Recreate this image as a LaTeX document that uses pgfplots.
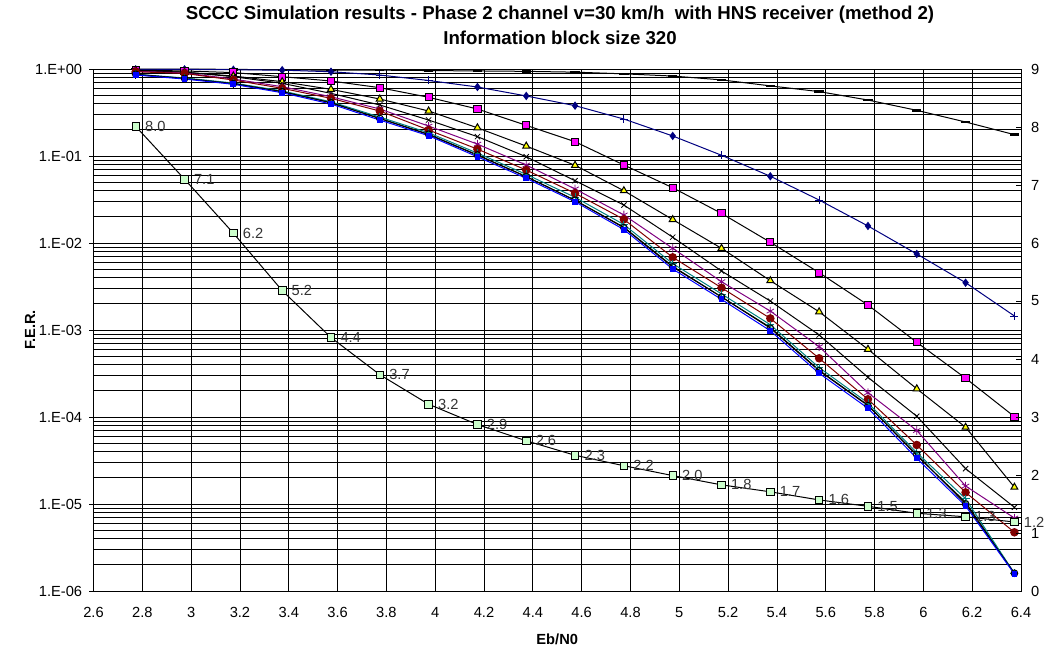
\documentclass[border=0pt]{standalone}
\usepackage{pgfplots}
\usepackage{pgfplotstable}
\pgfplotsset{compat=1.18}
\usepackage{fontspec}
\setmainfont{Liberation Sans}
\definecolor{xnavy}{HTML}{000080}
\definecolor{xmag}{HTML}{FF00FF}
\definecolor{xyel}{HTML}{FFFF00}
\definecolor{xpur}{HTML}{800080}
\definecolor{xred}{HTML}{800000}
\definecolor{xteal}{HTML}{008080}
\definecolor{xblue}{HTML}{0000FF}
\definecolor{xgreen}{HTML}{CCFFCC}

\pgfplotstableread{
x     A     B       Bd      Bp      C        D        E        F        G        H        I        K        J
2.773 1.0   0.99    0.99    nan     0.97     0.96     0.96     0.94     0.93     0.87     0.87     0.86     0.853
2.973 1.0   0.99    0.99    nan     0.95     0.92     0.92     0.90     0.89     0.79     0.78     0.78     0.767
3.173 0.99  0.98    0.98    nan     0.91     0.83     0.816    0.767    0.747    0.69     0.68     0.68     0.667
3.373 0.98  0.97    0.97    nan     0.816    0.715    0.685    0.626    0.60     0.56     0.55     0.55     0.534
3.573 0.97  0.93    0.93    nan     0.728    0.584    0.525    0.48     0.46     0.42     0.41     0.41     0.396
3.773 0.97  0.853   nan     0.853   0.61     0.452    0.386    0.347    0.329    0.28     0.27     0.27     0.259
3.973 0.96  0.738   nan     0.738   0.473    0.329    0.259    0.221    0.199    0.185    0.178    0.176    0.171
4.173 0.95  0.621   0.621   nan     0.347    0.211    0.167    0.137    0.120    0.108    0.103    0.102    0.098
4.373 0.94  0.49    0.49    nan     0.225    0.130    0.098    0.0788   0.069    0.0615   0.058    0.058    0.0554
4.573 0.92  0.379   0.379   nan     0.146    0.0782   0.052    0.0418   0.0373   0.0335   0.031    0.031    0.0298
4.773 0.88  0.266   nan     0.266   0.0788   0.0399   0.0273   0.021    0.0187   0.0163   0.0150   0.0152   0.01426
4.973 0.83  0.170   0.170   nan     0.0432   0.0186   0.01166  0.00869  0.00685  0.0058   0.0053   0.0054   0.00502
5.173 0.75  0.102   nan     0.102   0.0219   0.00869  0.00477  0.00359  0.00306  0.0026   0.0024   0.0024   0.00225
5.373 0.64  0.0585  0.0585  nan     0.0102   0.00369  0.00215  0.00165  0.00136  0.00115  0.00105  0.00107  0.00098
5.573 0.55  0.0312  nan     0.0312  0.00456  0.00162  0.000877 0.000643 0.000473 0.00037  0.00034  0.000345 0.000318
5.773 0.44  0.0157  0.0157  nan     0.00194  0.0006   0.000286 0.00019  0.00016  0.000145 0.000135 0.000137 0.000126
5.973 0.335 0.00748 0.00748 nan     0.000722 0.000211 0.000102 7.0e-5   4.77e-5  3.9e-5   3.7e-5   3.6e-5   3.35e-5
6.173 0.246 0.0035  0.0035  nan     0.000279 7.63e-5  2.55e-5  1.61e-5  1.36e-5  1.15e-5  1.0e-5   1.05e-5  9.5e-6
6.373 0.176 0.00145 nan     0.00145 0.000101 1.56e-5  9.17e-6  6.9e-6   4.73e-6  1.6e-6   1.6e-6   1.6e-6   1.57e-6
}\fer

\pgfplotstableread{
x     g    lab
2.773 8.01 8.0
2.973 7.10 7.1
3.173 6.17 6.2
3.373 5.18 5.2
3.573 4.37 4.4
3.773 3.73 3.7
3.973 3.22 3.2
4.173 2.87 2.9
4.373 2.59 2.6
4.573 2.34 2.3
4.773 2.16 2.2
4.973 1.99 2.0
5.173 1.83 1.8
5.373 1.71 1.7
5.573 1.57 1.6
5.773 1.46 1.5
5.973 1.34 1.3
6.173 1.28 1.3
6.373 1.19 1.2
}\green

\pgfplotsset{
  every axis/.append style={
    scale only axis, width=695.625pt, height=391.5pt,
    xmin=2.6, xmax=6.4,
    font=\fontsize{11}{13}\selectfont,
    /pgf/number format/assume math mode=true,
    axis line style={black, line width=0.7pt},
  },
}

\begin{document}
\begin{tikzpicture}
\path[use as bounding box] (-70.125pt,-45pt) rectangle (715.125pt,443.25pt);
\begin{axis}[
  ymode=log, ymin=1e-6, ymax=1,
  xtick={2.6,2.8,3,3.2,3.4,3.6,3.8,4,4.2,4.4,4.6,4.8,5,5.2,5.4,5.6,5.8,6,6.2,6.4},
  xticklabels={2.6,2.8,3,3.2,3.4,3.6,3.8,4,4.2,4.4,4.6,4.8,5,5.2,5.4,5.6,5.8,6,6.2,6.4},
  ytick={1e-6,1e-5,1e-4,1e-3,1e-2,1e-1,1},
  yticklabels={1.E-06,1.E-05,1.E-04,1.E-03,1.E-02,1.E-01,1.E+00},
  xmajorgrids, ymajorgrids, yminorgrids,
  grid style={black, line width=0.6pt},
  minor grid style={black, line width=0.6pt},
  xtick pos=bottom, ytick pos=left,
  tick align=outside,
  major tick length=3pt, minor tick length=0pt,
  xtick style={draw=none},
  ytick style={black, line width=0.6pt},
  xticklabel style={yshift=-6pt},
  yticklabel style={xshift=-2pt},
  clip=false,
  every axis plot/.append style={line width=0.75pt, mark options={solid, line width=0.6pt}},
]
\addplot[black, mark=-, mark size=3.5pt, mark options={line width=1.8pt}] table[x=x,y=A] {\fer};
\addplot[xnavy, no marks] table[x=x,y=B] {\fer};
\addplot[xnavy, only marks, mark=diamond*, mark size=2.6pt, mark options={fill=xnavy}] table[x=x,y=Bd] {\fer};
\addplot[xnavy, only marks, mark=+, mark size=3pt] table[x=x,y=Bp] {\fer};
\addplot[black, mark=square*, mark size=2.7pt, mark options={fill=xmag, draw=black}] table[x=x,y=C] {\fer};
\addplot[black, mark=triangle*, mark size=3pt, mark options={fill=xyel, draw=black}] table[x=x,y=D] {\fer};
\addplot[black, mark=x, mark size=2.8pt] table[x=x,y=E] {\fer};
\addplot[xpur, mark=asterisk, mark size=3.2pt] table[x=x,y=F] {\fer};
\addplot[xred, mark=*, mark size=2.8pt, mark options={fill=xred, draw=xred}] table[x=x,y=G] {\fer};
\addplot[black, mark=|, mark size=3pt] table[x=x,y=K] {\fer};
\addplot[xteal, mark=+, mark size=3pt] table[x=x,y=H] {\fer};
\addplot[black, mark=o, mark size=2.5pt, mark options={fill=white}] table[x=x,y=I] {\fer};
\addplot[xblue, mark=square*, mark size=1.8pt, mark options={fill=xblue, draw=xblue}] table[x=x,y=J] {\fer};
\end{axis}
\begin{axis}[
  ymin=0, ymax=9,
  axis y line*=right, axis x line=none,
  ytick={0,1,2,3,4,5,6,7,8,9},
  tick align=inside,
  major tick length=4pt,
  ytick style={black, line width=0.6pt},
  yticklabel style={xshift=4pt},
  clip=false,
]
\addplot[black, line width=0.75pt, mark=square*, mark size=2.8pt,
  mark options={fill=xgreen, draw=black, line width=0.6pt},
  nodes near coords, point meta=explicit symbolic,
  nodes near coords style={anchor=west, xshift=3.5pt, font=\fontsize{11}{13}\selectfont, text=black!80}]
  table[x=x,y=g,meta=lab] {\green};
\end{axis}
\node[font=\fontsize{14}{16}\selectfont\bfseries] at (349.9pt,432.5pt) {SCCC Simulation results - Phase 2 channel v=30 km/h\ \ with HNS receiver (method 2)};
\node[font=\fontsize{14}{16}\selectfont\bfseries] at (349.9pt,414.5pt) {Information block size 320};
\node[font=\fontsize{11}{13}\selectfont\bfseries] at (347.8pt,-36pt) {Eb/N0};
\node[font=\fontsize{11}{13}\selectfont\bfseries, rotate=90] at (-47.6pt,195.75pt) {F.E.R.};
\end{tikzpicture}
\end{document}
